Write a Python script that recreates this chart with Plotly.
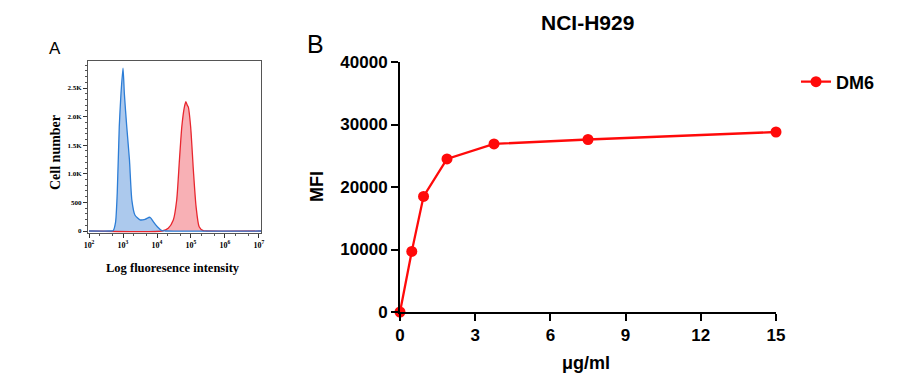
import plotly.graph_objects as go

# ---------------- Panel A data (flow cytometry histograms) ----------------
blue_intensity = [100, 398, 513, 603, 676, 776, 871, 1000, 1096, 1288, 1549, 1820,
                  2239, 3162, 4467, 5248, 5888, 6607, 7762, 10233, 13804, 17783, 12589254]
blue_count = [0, 0, 5, 150, 660, 1820, 2400, 2845, 2400, 1824, 1240, 540,
              280, 195, 205, 225, 240, 225, 165, 75, 8, 0, 0]

red_intensity = [100, 14125, 21380, 30200, 38019, 45709, 53703, 63096, 70795, 77625,
                 83176, 97724, 117490, 141254, 173780, 229087, 281838, 12589254]
red_count = [0, 0, 47, 192, 542, 1241, 1823, 2150, 2260, 2200,
             2170, 1823, 1066, 425, 75, 5, 0, 0]

a_xticks = [100, 1000, 10000, 100000, 1000000, 10000000]
a_xticktext = ["10<sup>2</sup>", "10<sup>3</sup>", "10<sup>4</sup>",
               "10<sup>5</sup>", "10<sup>6</sup>", "10<sup>7</sup>"]
a_yticks = [0, 500, 1000, 1500, 2000, 2500]
a_yticktext = ["0", "500", "1.0K", "1.5K", "2.0K", "2.5K"]

# ---------------- Panel B data (binding curve) ----------------
conc = [0, 0.47, 0.94, 1.875, 3.75, 7.5, 15]
mfi = [0, 9700, 18500, 24500, 26900, 27600, 28800]
b_xticks = [0, 3, 6, 9, 12, 15]
b_yticks = [0, 10000, 20000, 30000, 40000]

serif = "Liberation Serif"
sans = "Liberation Sans"

fig = go.Figure()

fig.add_trace(go.Scatter(
    x=red_intensity, y=red_count, mode="lines", line=dict(color="#e8262e", width=1.3, shape="spline", smoothing=0.6),
    fill="tozeroy", fillcolor="rgba(240,80,90,0.45)", xaxis="x", yaxis="y", showlegend=False, hoverinfo="skip"))
fig.add_trace(go.Scatter(
    x=blue_intensity, y=blue_count, mode="lines", line=dict(color="#2c7dd6", width=1.3, shape="spline", smoothing=0.6),
    fill="tozeroy", fillcolor="rgba(70,135,215,0.45)", xaxis="x", yaxis="y", showlegend=False, hoverinfo="skip"))

fig.add_trace(go.Scatter(
    x=conc, y=mfi, mode="lines+markers", name="DM6",
    line=dict(color="#ff0a0a", width=2.3),
    marker=dict(color="#ff0a0a", size=11, symbol="circle"),
    xaxis="x2", yaxis="y2", cliponaxis=False))

fig.update_layout(
    template="none",
    width=900, height=388, autosize=False,
    margin=dict(l=0, r=0, t=0, b=0, pad=0, autoexpand=False),
    paper_bgcolor="white", plot_bgcolor="white",
    xaxis=dict(
        domain=[88 / 900, 261 / 900], type="log", range=[1.97, 7.06], anchor="y", automargin=False,
        tickvals=a_xticks, ticktext=a_xticktext,
        tickfont=dict(family=serif, size=8, color="black", weight="bold"),
        ticks="outside", ticklen=4, tickcolor="#333", showgrid=False, zeroline=False,
        showline=True, linecolor="#555", linewidth=1, mirror=True,
        minor=dict(ticks="outside", ticklen=2, tickcolor="#555", showgrid=False),
    ),
    yaxis=dict(
        domain=[1 - 233 / 388, 1 - 61 / 388], range=[-35, 2972], anchor="x", automargin=False,
        tickvals=a_yticks, ticktext=a_yticktext,
        tickfont=dict(family=serif, size=7, color="black", weight="bold"),
        ticks="outside", ticklen=4, tickcolor="#333", showgrid=False, zeroline=False,
        showline=True, linecolor="#555", linewidth=1, mirror=True,
        minor=dict(ticks="outside", ticklen=2, tickcolor="#555", dtick=100, showgrid=False),
    ),
    xaxis2=dict(
        domain=[400 / 900, 776 / 900], range=[0, 15], anchor="y2", automargin=False,
        tickvals=b_xticks,
        tickfont=dict(family=sans, size=17, color="black", weight="bold"),
        ticks="outside", ticklen=7, tickwidth=2, tickcolor="black",
        showline=True, linecolor="black", linewidth=2, showgrid=False, zeroline=False,
    ),
    yaxis2=dict(
        domain=[1 - 312 / 388, 1 - 62 / 388], range=[0, 40000], anchor="x2", automargin=False,
        tickvals=b_yticks, tickformat="d",
        tickfont=dict(family=sans, size=17, color="black", weight="bold"),
        ticks="outside", ticklen=7, tickwidth=2, tickcolor="black",
        showline=True, linecolor="black", linewidth=2, showgrid=False, zeroline=False,
    ),
    showlegend=True,
    legend=dict(
        x=796 / 900, y=1 - 82 / 388, xanchor="left", yanchor="middle",
        font=dict(family=sans, size=18, color="black", weight="bold"),
        bgcolor="rgba(0,0,0,0)",
    ),
)

annos = [
    dict(text="A", x=55 / 900, y=1 - 48 / 388, font=dict(family=sans, size=17, color="black")),
    dict(text="Cell number", x=56 / 900, y=1 - 153 / 388, textangle=-90,
         font=dict(family=serif, size=14, color="black", weight="bold")),
    dict(text="Log fluoresence intensity", x=173 / 900, y=1 - 268 / 388,
         font=dict(family=serif, size=12.5, color="black", weight="bold")),
    dict(text="B", x=315 / 900, y=1 - 44 / 388, font=dict(family=sans, size=25, color="black")),
    dict(text="NCI-H929", x=587 / 900, y=1 - 22 / 388,
         font=dict(family=sans, size=21, color="black", weight="bold")),
    dict(text="MFI", x=317 / 900, y=1 - 187 / 388, textangle=-90,
         font=dict(family=sans, size=18, color="black", weight="bold")),
    dict(text="μg/ml", x=586 / 900, y=1 - 363 / 388,
         font=dict(family=sans, size=18, color="black", weight="bold")),
]
for a in annos:
    fig.add_annotation(xref="paper", yref="paper", xanchor="center", yanchor="middle",
                       showarrow=False, **a)

fig.write_html(
    "out.html",
    config={"displayModeBar": False, "responsive": False},
    post_script="document.body.style.margin='0';document.body.style.padding='0';document.body.style.overflow='hidden';",
)
